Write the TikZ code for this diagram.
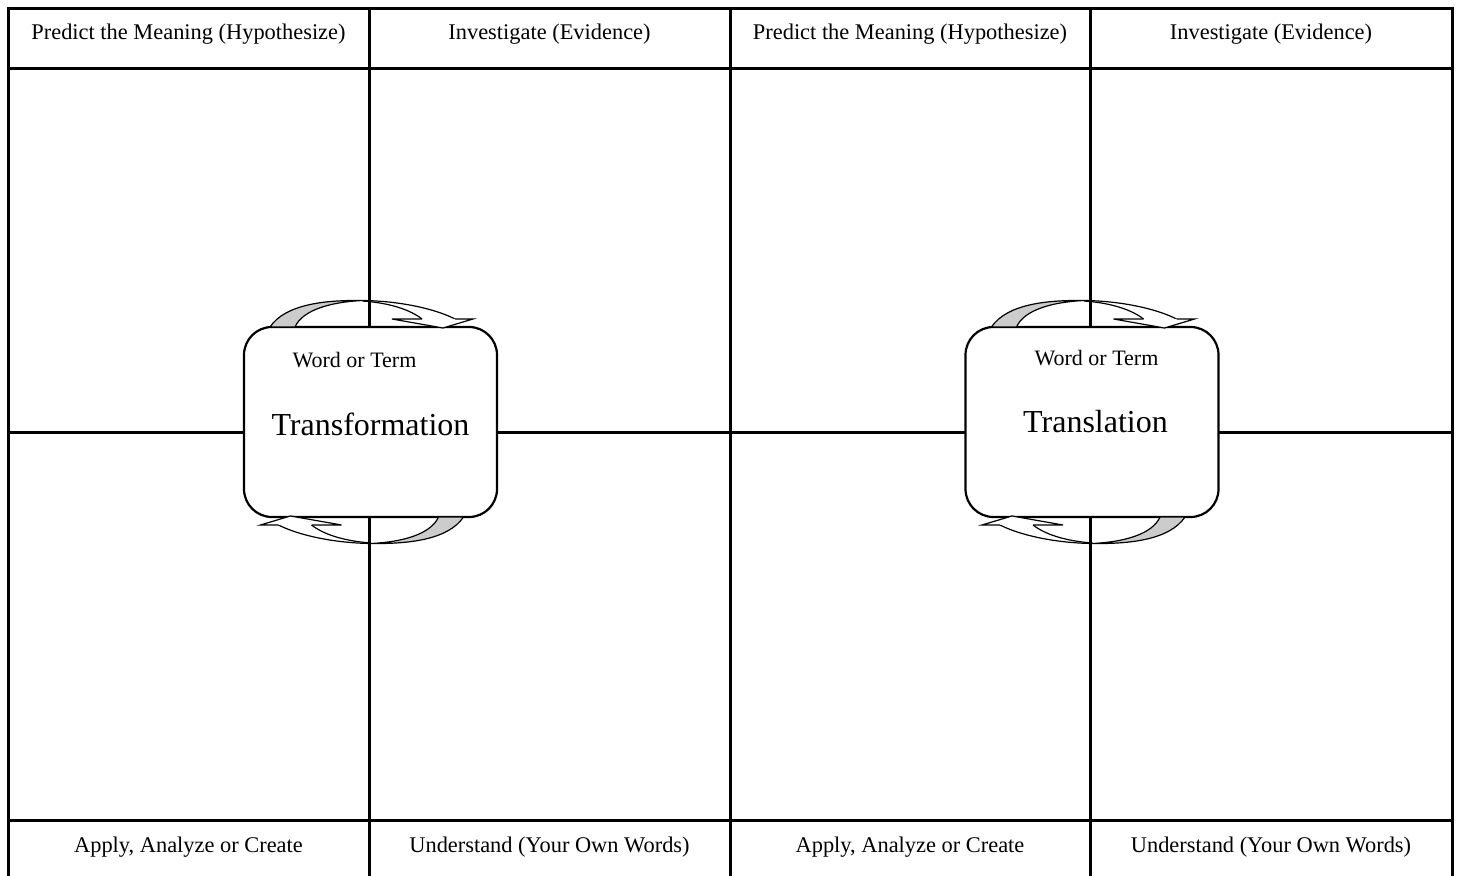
\documentclass[tikz,border=0pt]{standalone}
\usepackage{fontspec}
\setmainfont{Liberation Serif}
\tikzset{
  cell/.style={font=\fontsize{11.2}{13}\selectfont, anchor=base, inner sep=0pt},
  rule/.style={line width=1.5pt},
  termbox/.style={draw, line width=1.1pt, fill=white, rounded corners=14pt, minimum width=126.5pt, minimum height=95pt},
  ribbon/.style={line width=0.6pt},
}
% one twisted arrow over a box, drawn round (0,0)
\newcommand{\turnarrow}{%
  \filldraw[ribbon, fill=gray!40] (-100.5,-95) .. controls (-85,-118) and (-45,-122) .. (-8,-121.5) .. controls (-40,-120) and (-68,-112) .. (-75.5,-95) -- cycle;
  \draw[ribbon] (-8,-121.5) .. controls (30,-121) and (65,-113) .. (84.5,-103);
  \draw[ribbon] (-8,-121) .. controls (20,-119) and (40,-112) .. (51.5,-103);
  \filldraw[ribbon, fill=white] (51.5,-103) -- (21.5,-103) -- (72.5,-94) -- (102.5,-103) -- (84.5,-103);
}
\begin{document}
\begin{tikzpicture}[x=0.5pt, y=-0.5pt]
\useasboundingbox (0,0) rectangle (1457,876);
% grid
\draw[rule] (8,9) rectangle (1452,880);
\draw[rule] (8,69) -- (1452,69);
\draw[rule] (8,820) -- (1452,820);
\draw[rule] (8,433) -- (1452,433);
\draw[rule] (369,9) -- (369,880);
\draw[rule] (730,9) -- (730,880);
\draw[rule] (1090,9) -- (1090,880);
% cell titles
\node[cell] (predictL) at (188.5,40) {Predict the Meaning (Hypothesize)};
\node[cell] (investL) at (549.5,40) {Investigate (Evidence)};
\node[cell] (predictR) at (910,40) {Predict the Meaning (Hypothesize)};
\node[cell] (investR) at (1271,40) {Investigate (Evidence)};
\node[cell] (applyL) at (188.5,852) {Apply, Analyze or Create};
\node[cell] (underL) at (549.5,852) {Understand (Your Own Words)};
\node[cell] (applyR) at (910,852) {Apply, Analyze or Create};
\node[cell] (underR) at (1271,852) {Understand (Your Own Words)};
% term boxes
\node[termbox] (boxL) at (370.5,422) {};
\node[termbox] (boxR) at (1092,422) {};
\node[anchor=base, inner sep=0pt, font=\fontsize{11}{13}\selectfont] (wordL) at (354.5,368) {Word or Term};
\node[anchor=base, inner sep=0pt, font=\fontsize{16}{19}\selectfont] (termL) at (370.5,436) {Transformation};
\node[anchor=base, inner sep=0pt, font=\fontsize{11}{13}\selectfont] (wordR) at (1096.5,366) {Word or Term};
\node[anchor=base, inner sep=0pt, font=\fontsize{16}{19}\selectfont] (termR) at (1095.5,433) {Translation};
% arrows
\begin{scope}[shift={(370.5,422)}]\turnarrow\end{scope}
\begin{scope}[shift={(363,422)}, rotate=180]\turnarrow\end{scope}
\begin{scope}[shift={(1092,422)}]\turnarrow\end{scope}
\begin{scope}[shift={(1084.5,422)}, rotate=180]\turnarrow\end{scope}
\end{tikzpicture}
\end{document}
